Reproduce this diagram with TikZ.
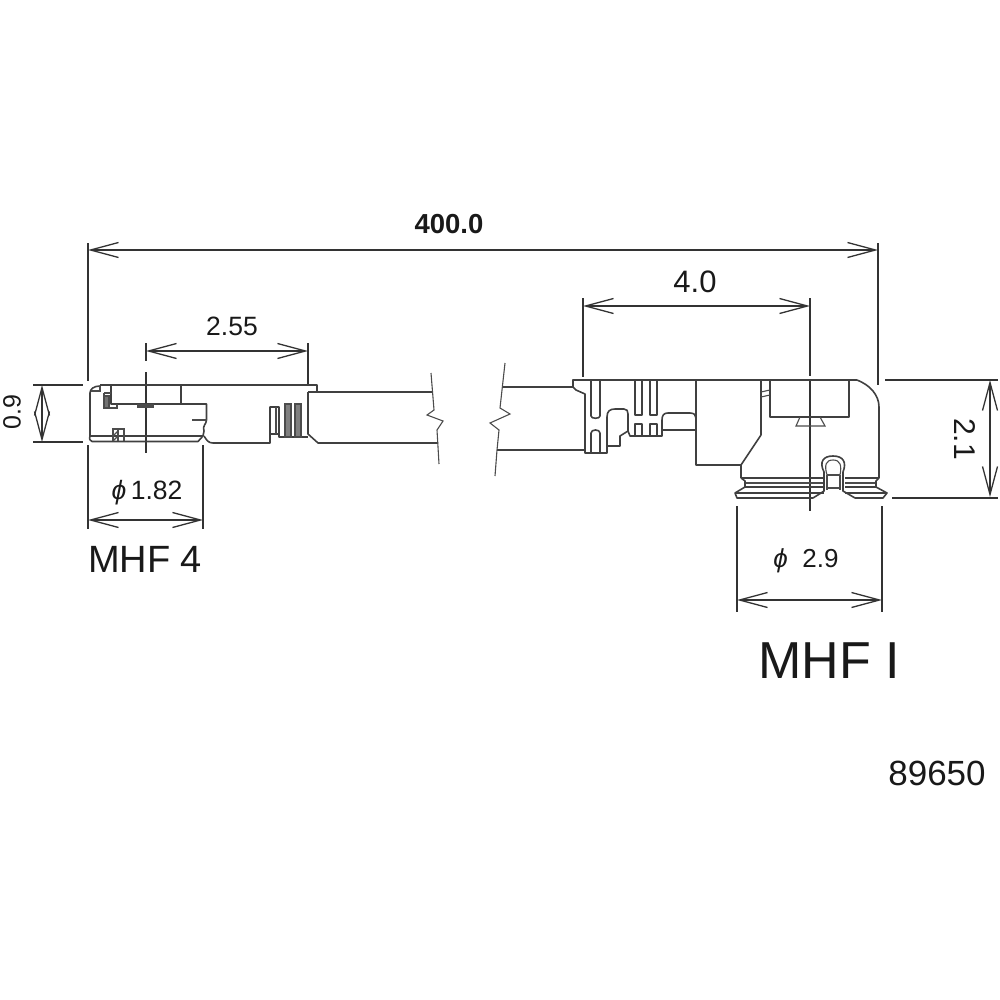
\documentclass[tikz,border=0pt]{standalone}
\usepackage{fontspec}
\setmainfont{Liberation Sans}
\usetikzlibrary{arrows.meta}
\tikzset{
  part/.style={draw=black!75,line width=1.6pt,line join=round},
  thin part/.style={draw=black!70,line width=1.1pt},
  extline/.style={draw=black!80,line width=1.3pt},
  dim/.style={draw=black!80,line width=1.3pt,{Straight Barb[length=28pt,width=15pt]}-{Straight Barb[length=28pt,width=15pt]}},
  label/.style={inner sep=0pt,text=black!90}
}
\begin{document}
\begin{tikzpicture}[x=1pt,y=-1pt]
\useasboundingbox (0,0) rectangle (1000,1000);
% --- coordinates for dimensions
\coordinate (a1) at (88,250); \coordinate (a2) at (878,250);
\coordinate (b1) at (583,306); \coordinate (b2) at (810,306);
\coordinate (c1) at (146,351); \coordinate (c2) at (308,351);
\coordinate (d1) at (42,385); \coordinate (d2) at (42,442);
\coordinate (e1) at (990,380); \coordinate (e2) at (990,497);
\coordinate (f1) at (88,520); \coordinate (f2) at (203,520);
\coordinate (g1) at (737,600); \coordinate (g2) at (882,600);
% --- extension lines
\draw[extline] (88,243) -- (88,381) (88,445) -- (88,529);
\draw[extline] (203,445) -- (203,529);
\draw[extline] (33,385) -- (83,385) (33,442) -- (83,442);
\draw[extline] (146,343) -- (146,361) (146,372) -- (146,453);
\draw[extline] (308,343) -- (308,385);
\draw[extline] (583,298) -- (583,377);
\draw[extline] (810,298) -- (810,376) (810,380) -- (810,511);
\draw[extline] (878,243) -- (878,385);
\draw[extline] (885,380) -- (998,380) (892,498) -- (998,498);
\draw[extline] (737,506) -- (737,612) (882,506) -- (882,612);
% --- dimensions
\draw[dim] (a1) -- (a2);
\draw[dim] (b1) -- (b2);
\draw[dim] (c1) -- (c2);
\draw[dim] (e1) -- (e2);
\draw[dim] (f1) -- (f2);
\draw[dim] (g1) -- (g2);
\draw[dim] (d1) -- (d2);
% --- left connector (MHF 4)
\draw[part] (100,385) -- (317,385) -- (317,392) -- (308,392);
\draw[part] (317,392) -- (433,392);
\draw[part] (100,386) .. controls (94,386) and (90,389) .. (90,393) -- (90,436) -- (203,436);
\draw[part] (90,436) .. controls (89,439) and (90,441) .. (92,441.5) -- (198,441.5) -- (203,436);
\draw[thin part] (91,391) -- (100,391) -- (100,386);
\draw[part] (111,385) -- (111,404) -- (206.5,404) -- (206.5,420) .. controls (206.5,424) and (202,426) .. (204,431) -- (203,436);
\draw[part] (181,385) -- (181,404);
\draw[thin part] (192,420) -- (206.5,420);
\draw[thin part,fill=black!55] (104,396) rectangle (109,408);
\draw[thin part] (104,393) -- (111,393) (104,393) -- (104,408) -- (117,408) -- (117,404);
\draw[thin part,fill=black!45] (138,405) rectangle (153,407);
\draw[thin part] (113,441) -- (113,429) -- (124,429) -- (124,441) (118,429) -- (118,441);
\draw[thin part] (113,436) -- (118,431) (113,441) -- (118,436);
\draw[part] (204,436) .. controls (207,441) and (209,443) .. (213,443) -- (270,443) -- (270,407) -- (279,407) -- (279,434);
\draw[part] (270,434) -- (279,434) -- (279,437) -- (308,437);
\draw[thin part] (276,407) -- (276,434);
\draw[thin part,fill=black!50] (285,404) rectangle (291,437);
\draw[thin part,fill=black!50] (295,404) rectangle (301,437);
\draw[part] (308,392) -- (308,434) -- (318,443) -- (438,443);
\draw[thin part] (431,373) -- (434,410) -- (427,415) -- (443,421) -- (437,430) -- (439,464);
% --- right connector (MHF I)
\draw[thin part] (505,363) -- (500,408) -- (510,414) -- (490,423) -- (499,430) -- (497,450) -- (495,476);
\draw[part] (503,387) -- (573,387);
\draw[part] (497,450) -- (585,450);
\draw[part] (573,387) -- (573,380) -- (857,380);
\draw[part] (573,387) -- (576,390) -- (585,394) -- (585,453) -- (607,453) -- (607,417) .. controls (607,411) and (610,409) .. (615,409) -- (624,409) .. controls (627,409) and (628,411) .. (628,414) -- (628,431) -- (620,436) -- (620,446) -- (607,446);
\draw[part] (628,431) -- (630,436) -- (662,436) -- (662,420) .. controls (662,415) and (664,413) .. (668,413) -- (690,413) .. controls (694,413) and (696,415) .. (696,418);
\draw[part] (662,430) -- (696,430);
\draw[part] (696,380) -- (696,465) -- (741,465);
\draw[part] (591,380) -- (591,416) .. controls (591,419) and (600,419) .. (600,416) -- (600,380);
\draw[part] (591,453) -- (591,433) .. controls (591,429) and (600,429) .. (600,433) -- (600,453);
\draw[part] (635,380) -- (635,415) -- (642,415) -- (642,380);
\draw[part] (650,380) -- (650,415) -- (657,415) -- (657,380);
\draw[part] (635,436) -- (635,424) -- (642,424) -- (642,436);
\draw[part] (650,436) -- (650,424) -- (657,424) -- (657,436);
\draw[part] (761,380) -- (761,435) -- (741,465) -- (741,478);
\draw[part] (770,380) -- (770,417) -- (849,417) -- (849,380);
\draw[thin part] (761,392) -- (770,390) (761,397) -- (770,395);
\draw[thin part] (800,417) -- (796,426) -- (825,426) -- (820,417);
\draw[part] (857,380) .. controls (870,385) and (879,395) .. (879,407) -- (879,478);
% flange
\draw[part] (741,478) -- (824,478) (845,478) -- (879,478);
\draw[thin part] (745,483) -- (824,483) (845,483) -- (876,483);
\draw[part] (745,487) -- (824,487) (845,487) -- (876,487);
\draw[part] (735,493) -- (824,493) (845,493) -- (887,493);
\draw[part] (741,478) -- (745,481) -- (745,487) -- (735,493) -- (737,498) -- (813,498) -- (821,493) -- (824,491) -- (824,472)
  .. controls (819,462) and (823,456) .. (833,456) .. controls (843,456) and (847,462) .. (843,472) -- (843,491) -- (855,498) -- (883,498) -- (887,493) -- (876,487) -- (876,481) -- (879,478);
\draw[thin part] (827,475) .. controls (824,465) and (826,460) .. (833,460) .. controls (840,460) and (842,465) .. (840,475);
\draw[thin part] (827,475) -- (840,475) (827,488) -- (840,488) (827,475) -- (827,490) (840,475) -- (840,490);
% --- labels
\node[label,font=\fontsize{27.5}{27.5}\selectfont\bfseries] (t400) at (449,224) {400.0};
\node[label,font=\fontsize{31}{31}\selectfont] (t40) at (695,282) {4.0};
\node[label,font=\fontsize{26.5}{26.5}\selectfont] (t255) at (232,326) {2.55};
\node[label,font=\fontsize{25}{25}\selectfont,rotate=90] (t09) at (12,412) {0.9};
\node[label,font=\fontsize{30}{30}\selectfont,rotate=-90] (t21) at (965,439) {2.1};
\node[label,font=\fontsize{26.5}{26.5}\selectfont] (t182) at (147,493) {\textit{ϕ}\,1.82};
\node[label,font=\fontsize{26}{26}\selectfont] (t29) at (806,561) {\textit{ϕ}\ \ 2.9};
\node[label,font=\fontsize{38}{38}\selectfont] (m4) at (145,559) {MHF 4};
\node[label,font=\fontsize{52}{52}\selectfont] (m1) at (829,661) {MHF I};
\node[label,font=\fontsize{35}{35}\selectfont] (num) at (937,773) {89650};
\end{tikzpicture}
\end{document}
